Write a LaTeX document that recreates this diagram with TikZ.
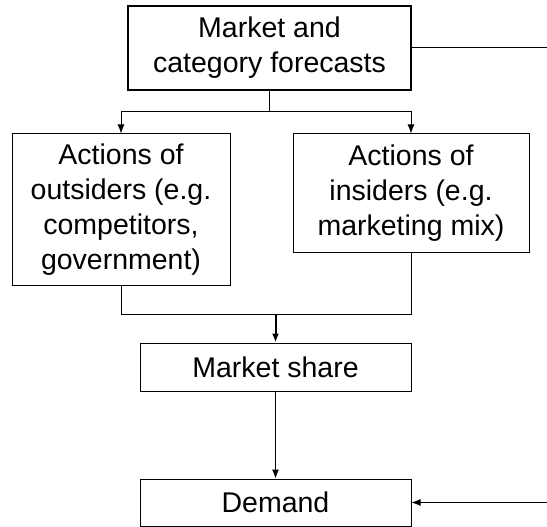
\documentclass[tikz,border=0pt]{standalone}
\usepackage{fontspec}
\setmainfont{Liberation Sans}
\usetikzlibrary{calc,arrows.meta,positioning}

\begin{document}
\begin{tikzpicture}[
    x=1pt, y=-1pt,
    block/.style={rectangle,
        draw=black,
        line width=1pt,
        fill=white,
        align=center,
        inner sep=0pt,
        font=\fontsize{28.5}{35}\selectfont},
    link/.style={line width=1pt,-{Latex[length=9pt,width=7pt]}},
    ]

    \useasboundingbox (0,0) rectangle (547,527);

    \node [block, line width=2.2pt, minimum width=283pt, minimum height=84pt] (forecast) at (269.5,48) {Market and\\category forecasts};
    \node [block, minimum width=218pt, minimum height=151pt] (outsiders) at (121,209.5) {Actions of\\outsiders (e.g.\\competitors,\\government)};
    \node [block, minimum width=236pt, minimum height=118pt] (insiders) at (411,193) {Actions of\\insiders (e.g.\\marketing mix)};
    \node [block, minimum width=271pt, minimum height=48pt] (share) at (275.5,367) {Market share};
    \node [block, minimum width=271pt, minimum height=47pt] (demand) at (275.5,502.5) {Demand};

    \coordinate (split) at (forecast.south |- 0,112);
    \coordinate (join) at (share.north |- 0,314);
    \coordinate (edgetop) at (547,48);
    \coordinate (edgebottom) at (547,502.5);

    \draw[line width=1pt] (forecast.south) -- (split);
    \draw[link] (split) -| (outsiders.north);
    \draw[link] (split) -| (insiders.north);

    \draw[line width=1pt] (outsiders.south) |- (join);
    \draw[line width=1pt] (insiders.south) |- (join);
    \draw[link, line width=2pt] (join) -- (share.north);
    \draw[link] (share) -- (demand);

    \draw[line width=1pt] (forecast.east) -- (edgetop);
    \draw[link] (edgebottom) -- (demand.east);
\end{tikzpicture}
\end{document}
